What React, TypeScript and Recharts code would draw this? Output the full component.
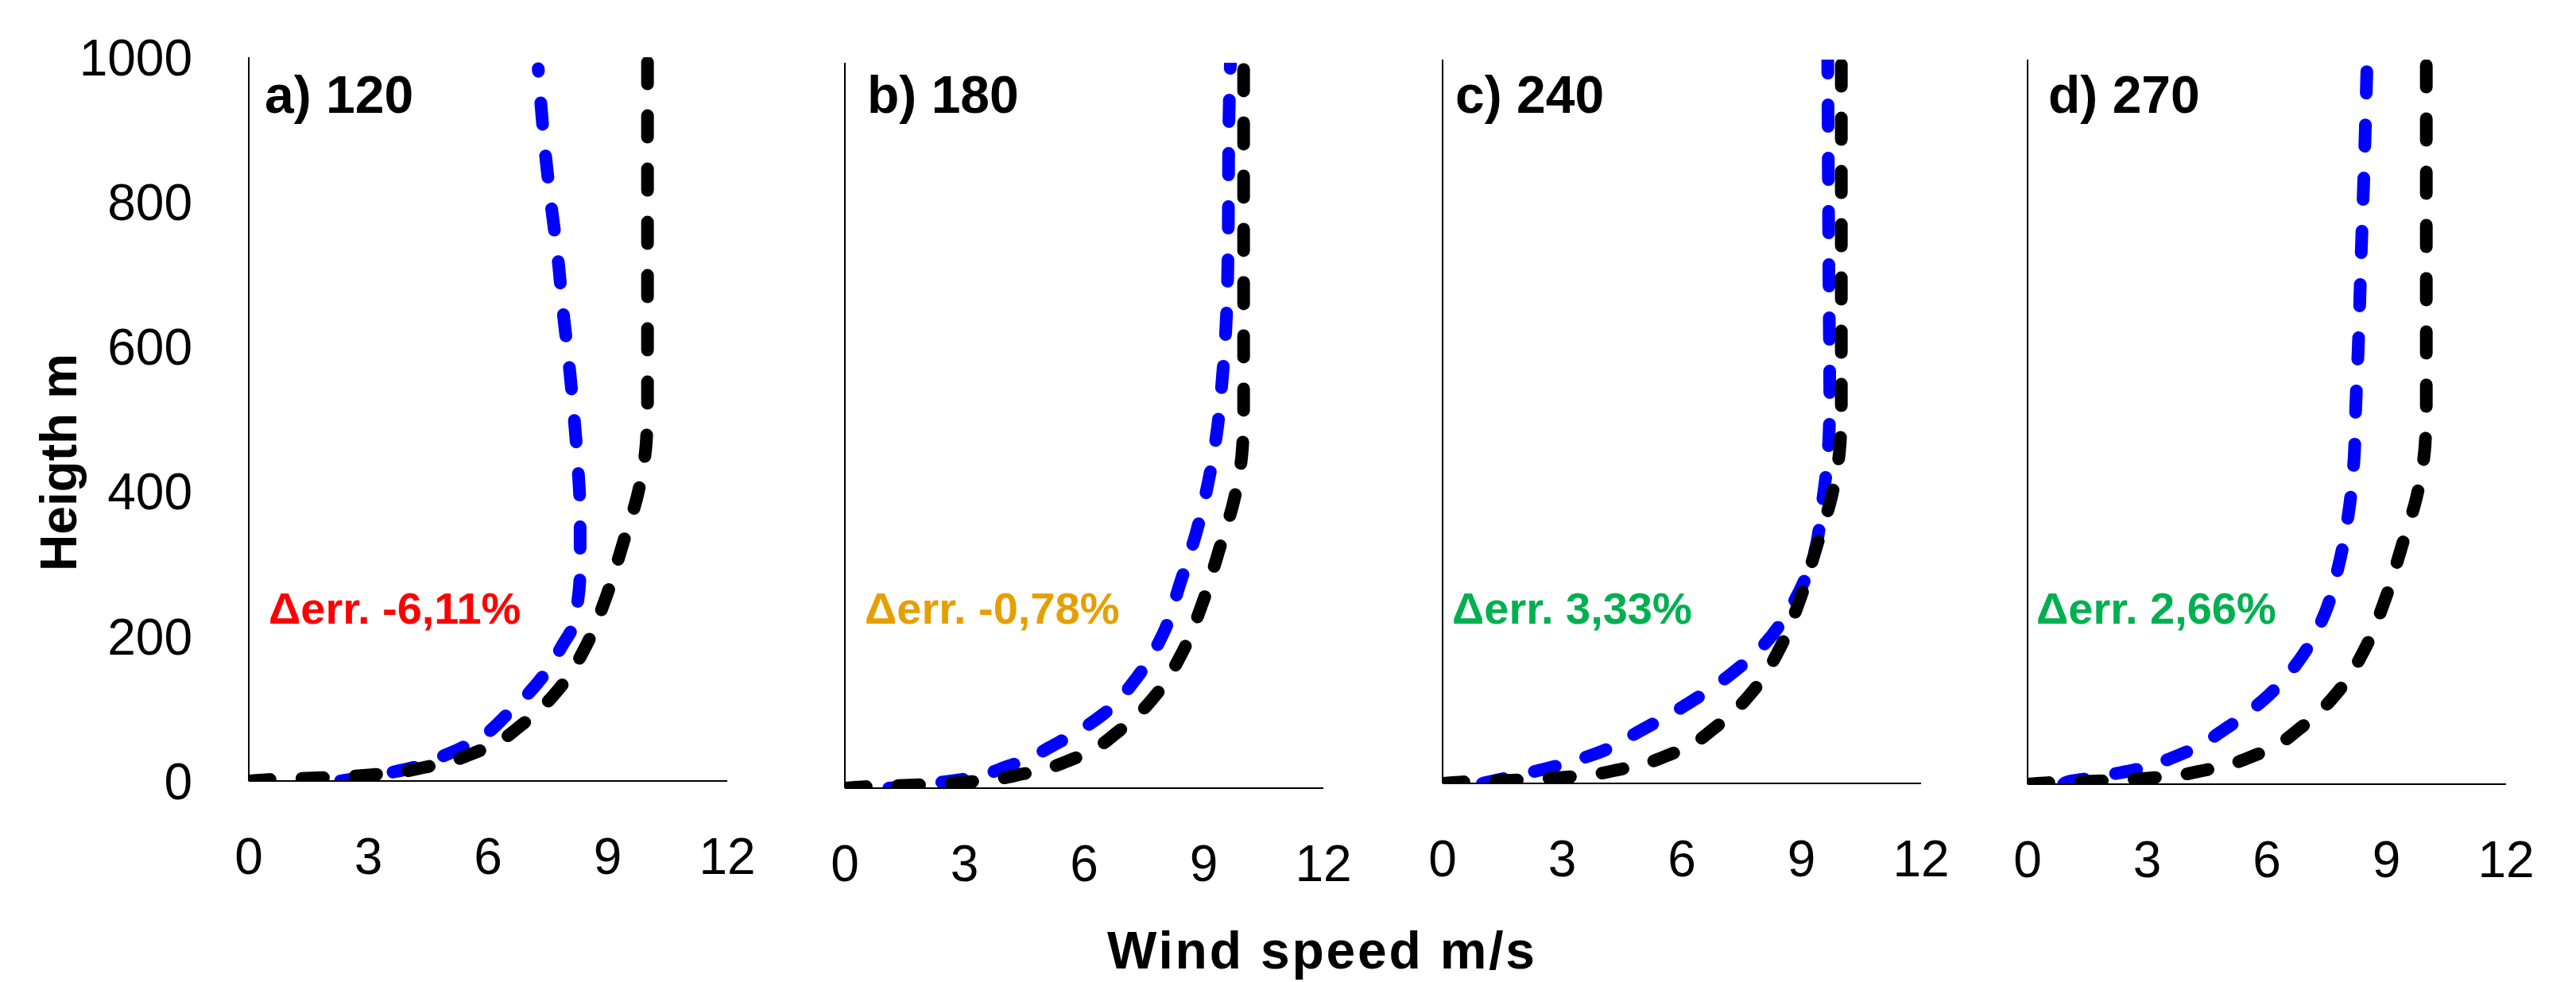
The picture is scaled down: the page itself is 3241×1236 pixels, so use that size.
import React from 'react';
import { LineChart, Line, XAxis, YAxis } from 'recharts';

const FONT = '"Liberation Sans", Arial, sans-serif';

// ---- tick labels ----
const xTicks = [0, 3, 6, 9, 12];
const yTicks = [0, 200, 400, 600, 800, 1000];

// ---- reference (black) profile, same in all panels ----
const refHeight = [0, 2, 4, 9, 20, 42, 80, 132, 188, 257, 331, 395, 469, 520, 600, 700, 800, 900, 1000];
const refSpeed = [0, 0.5, 1.6, 3.17, 4.5, 5.8, 6.9, 7.85, 8.47, 8.98, 9.4, 9.75, 9.97, 10.0, 10.0, 10.0, 10.0, 10.0, 10.0];

// ---- model (blue) profiles ----
const blueAHeight = [0, 3, 16, 36, 61, 92, 119, 153, 188, 213, 248, 291, 369, 438, 508, 577, 655, 724, 793, 871, 984];
const blueASpeed = [2.3, 2.65, 3.93, 4.94, 5.84, 6.48, 6.98, 7.49, 7.87, 8.13, 8.25, 8.31, 8.31, 8.25, 8.15, 8.03, 7.87, 7.75, 7.59, 7.43, 7.26];

const blueBHeight = [0, 11, 31, 63, 102, 153, 214, 283, 352, 421, 491, 568, 629, 741, 914, 1000];
const blueBSpeed = [1.1, 2.81, 4.13, 5.36, 6.48, 7.33, 7.99, 8.41, 8.81, 9.11, 9.33, 9.47, 9.55, 9.61, 9.63, 9.67];

const blueCHeight = [0, 7, 20, 40, 74, 109, 147, 191, 247, 312, 390, 459, 528, 693, 1000];
const blueCSpeed = [1.0, 1.55, 2.57, 3.79, 5.0, 6.12, 7.14, 8.05, 8.77, 9.29, 9.53, 9.67, 9.71, 9.69, 9.66];

const blueDHeight = [0, 3, 8, 19, 41, 79, 123, 174, 235, 304, 382, 451, 520, 598, 737, 866, 987];
const blueDSpeed = [0.9, 1.0, 1.52, 2.62, 3.83, 5.03, 6.05, 6.85, 7.45, 7.81, 8.07, 8.19, 8.23, 8.29, 8.37, 8.45, 8.51];

// ---- texts ----
const panelTitles = ['a) 120', 'b) 180', 'c) 240', 'd) 270'];
const errLabels = ['Δerr. -6,11%', 'Δerr. -0,78%', 'Δerr. 3,33%', 'Δerr. 2,66%'];
const errColors = ['#FF0000', '#E69F00', '#00B050', '#00B050'];
const xAxisTitle = 'Wind speed m/s';
const yAxisTitle = 'Heigth m';

const toPoints = (speeds: number[], heights: number[]) =>
  speeds.map((s, i) => ({ speed: s, height: heights[i] }));

const refPoints = toPoints(refSpeed, refHeight);
const bluePoints = [
  toPoints(blueASpeed, blueAHeight),
  toPoints(blueBSpeed, blueBHeight),
  toPoints(blueCSpeed, blueCHeight),
  toPoints(blueDSpeed, blueDHeight),
];

// ---- layout (pixels) ----
const PLOT_W = 602;
const layout = [
  { plotLeft: 313, plotTop: 72, plotBottom: 983, showY: true, titleX: 333, errX: 338 },
  { plotLeft: 1063, plotTop: 79, plotBottom: 992, showY: false, titleX: 1091, errX: 1088 },
  { plotLeft: 1815, plotTop: 75, plotBottom: 986, showY: false, titleX: 1831, errX: 1827 },
  { plotLeft: 2551, plotTop: 75, plotBottom: 987, showY: false, titleX: 2577, errX: 2562 },
];

const lineStyle = {
  strokeWidth: 16,
  strokeDasharray: '27 40',
  strokeLinecap: 'round' as const,
};

function Panel({ idx }: { idx: number }) {
  const p = layout[idx];
  const leftPad = p.showY ? p.plotLeft : 60;
  const rightPad = 60;
  const width = leftPad + PLOT_W + rightPad;
  const height = p.plotBottom + 150;
  return (
    <div style={{ position: 'absolute', left: p.plotLeft - leftPad, top: 0 }}>
      <LineChart
        width={width}
        height={height}
        margin={{ top: p.plotTop, right: rightPad, bottom: 0, left: 0 }}
      >
        <XAxis
          type="number"
          dataKey="speed"
          domain={[0, 12]}
          ticks={xTicks}
          interval={0}
          allowDataOverflow
          height={150}
          tickSize={0}
          tickMargin={72}
          tickLine={false}
          axisLine={{ stroke: '#000', strokeWidth: 2 }}
          tick={{ fill: '#000', fontSize: 64, fontFamily: FONT }}
        />
        <YAxis
          type="number"
          domain={[0, 1000]}
          ticks={yTicks}
          interval={0}
          allowDataOverflow
          width={leftPad}
          tickSize={0}
          tickMargin={71}
          tickLine={false}
          axisLine={{ stroke: '#000', strokeWidth: 2 }}
          tick={p.showY ? { fill: '#000', fontSize: 64, fontFamily: FONT } : false}
        />
        <Line
          data={bluePoints[idx]}
          dataKey="height"
          type="monotoneY"
          stroke="#0000FF"
          {...lineStyle}
          dot={false}
          activeDot={false}
          isAnimationActive={false}
        />
        <Line
          data={refPoints}
          dataKey="height"
          type="monotoneY"
          stroke="#000000"
          {...lineStyle}
          dot={false}
          activeDot={false}
          isAnimationActive={false}
        />
      </LineChart>
    </div>
  );
}

export default function App() {
  return (
    <div style={{ position: 'absolute', left: 0, top: 0, width: 3241, height: 1236, background: '#fff' }}>
      {layout.map((_, i) => (
        <Panel key={i} idx={i} />
      ))}
      <svg
        width={3241}
        height={1236}
        style={{ position: 'absolute', left: 0, top: 0, pointerEvents: 'none' }}
      >
        {layout.map((p, i) => (
          <g key={i}>
            <text x={p.titleX} y={142} fontFamily={FONT} fontWeight={700} fontSize={66} fill="#000">
              {panelTitles[i]}
            </text>
            <text x={p.errX} y={785} fontFamily={FONT} fontWeight={700} fontSize={56} fill={errColors[i]}>
              {errLabels[i]}
            </text>
          </g>
        ))}
        <text
          x={1662}
          y={1219}
          textAnchor="middle"
          fontFamily={FONT}
          fontWeight={700}
          fontSize={66}
          fill="#000"
          textLength={538}
          lengthAdjust="spacing"
        >
          {xAxisTitle}
        </text>
        <text
          x={96}
          y={582}
          textAnchor="middle"
          fontFamily={FONT}
          fontWeight={700}
          fontSize={64}
          fill="#000"
          transform="rotate(-90 96 582)"
        >
          {yAxisTitle}
        </text>
      </svg>
    </div>
  );
}
